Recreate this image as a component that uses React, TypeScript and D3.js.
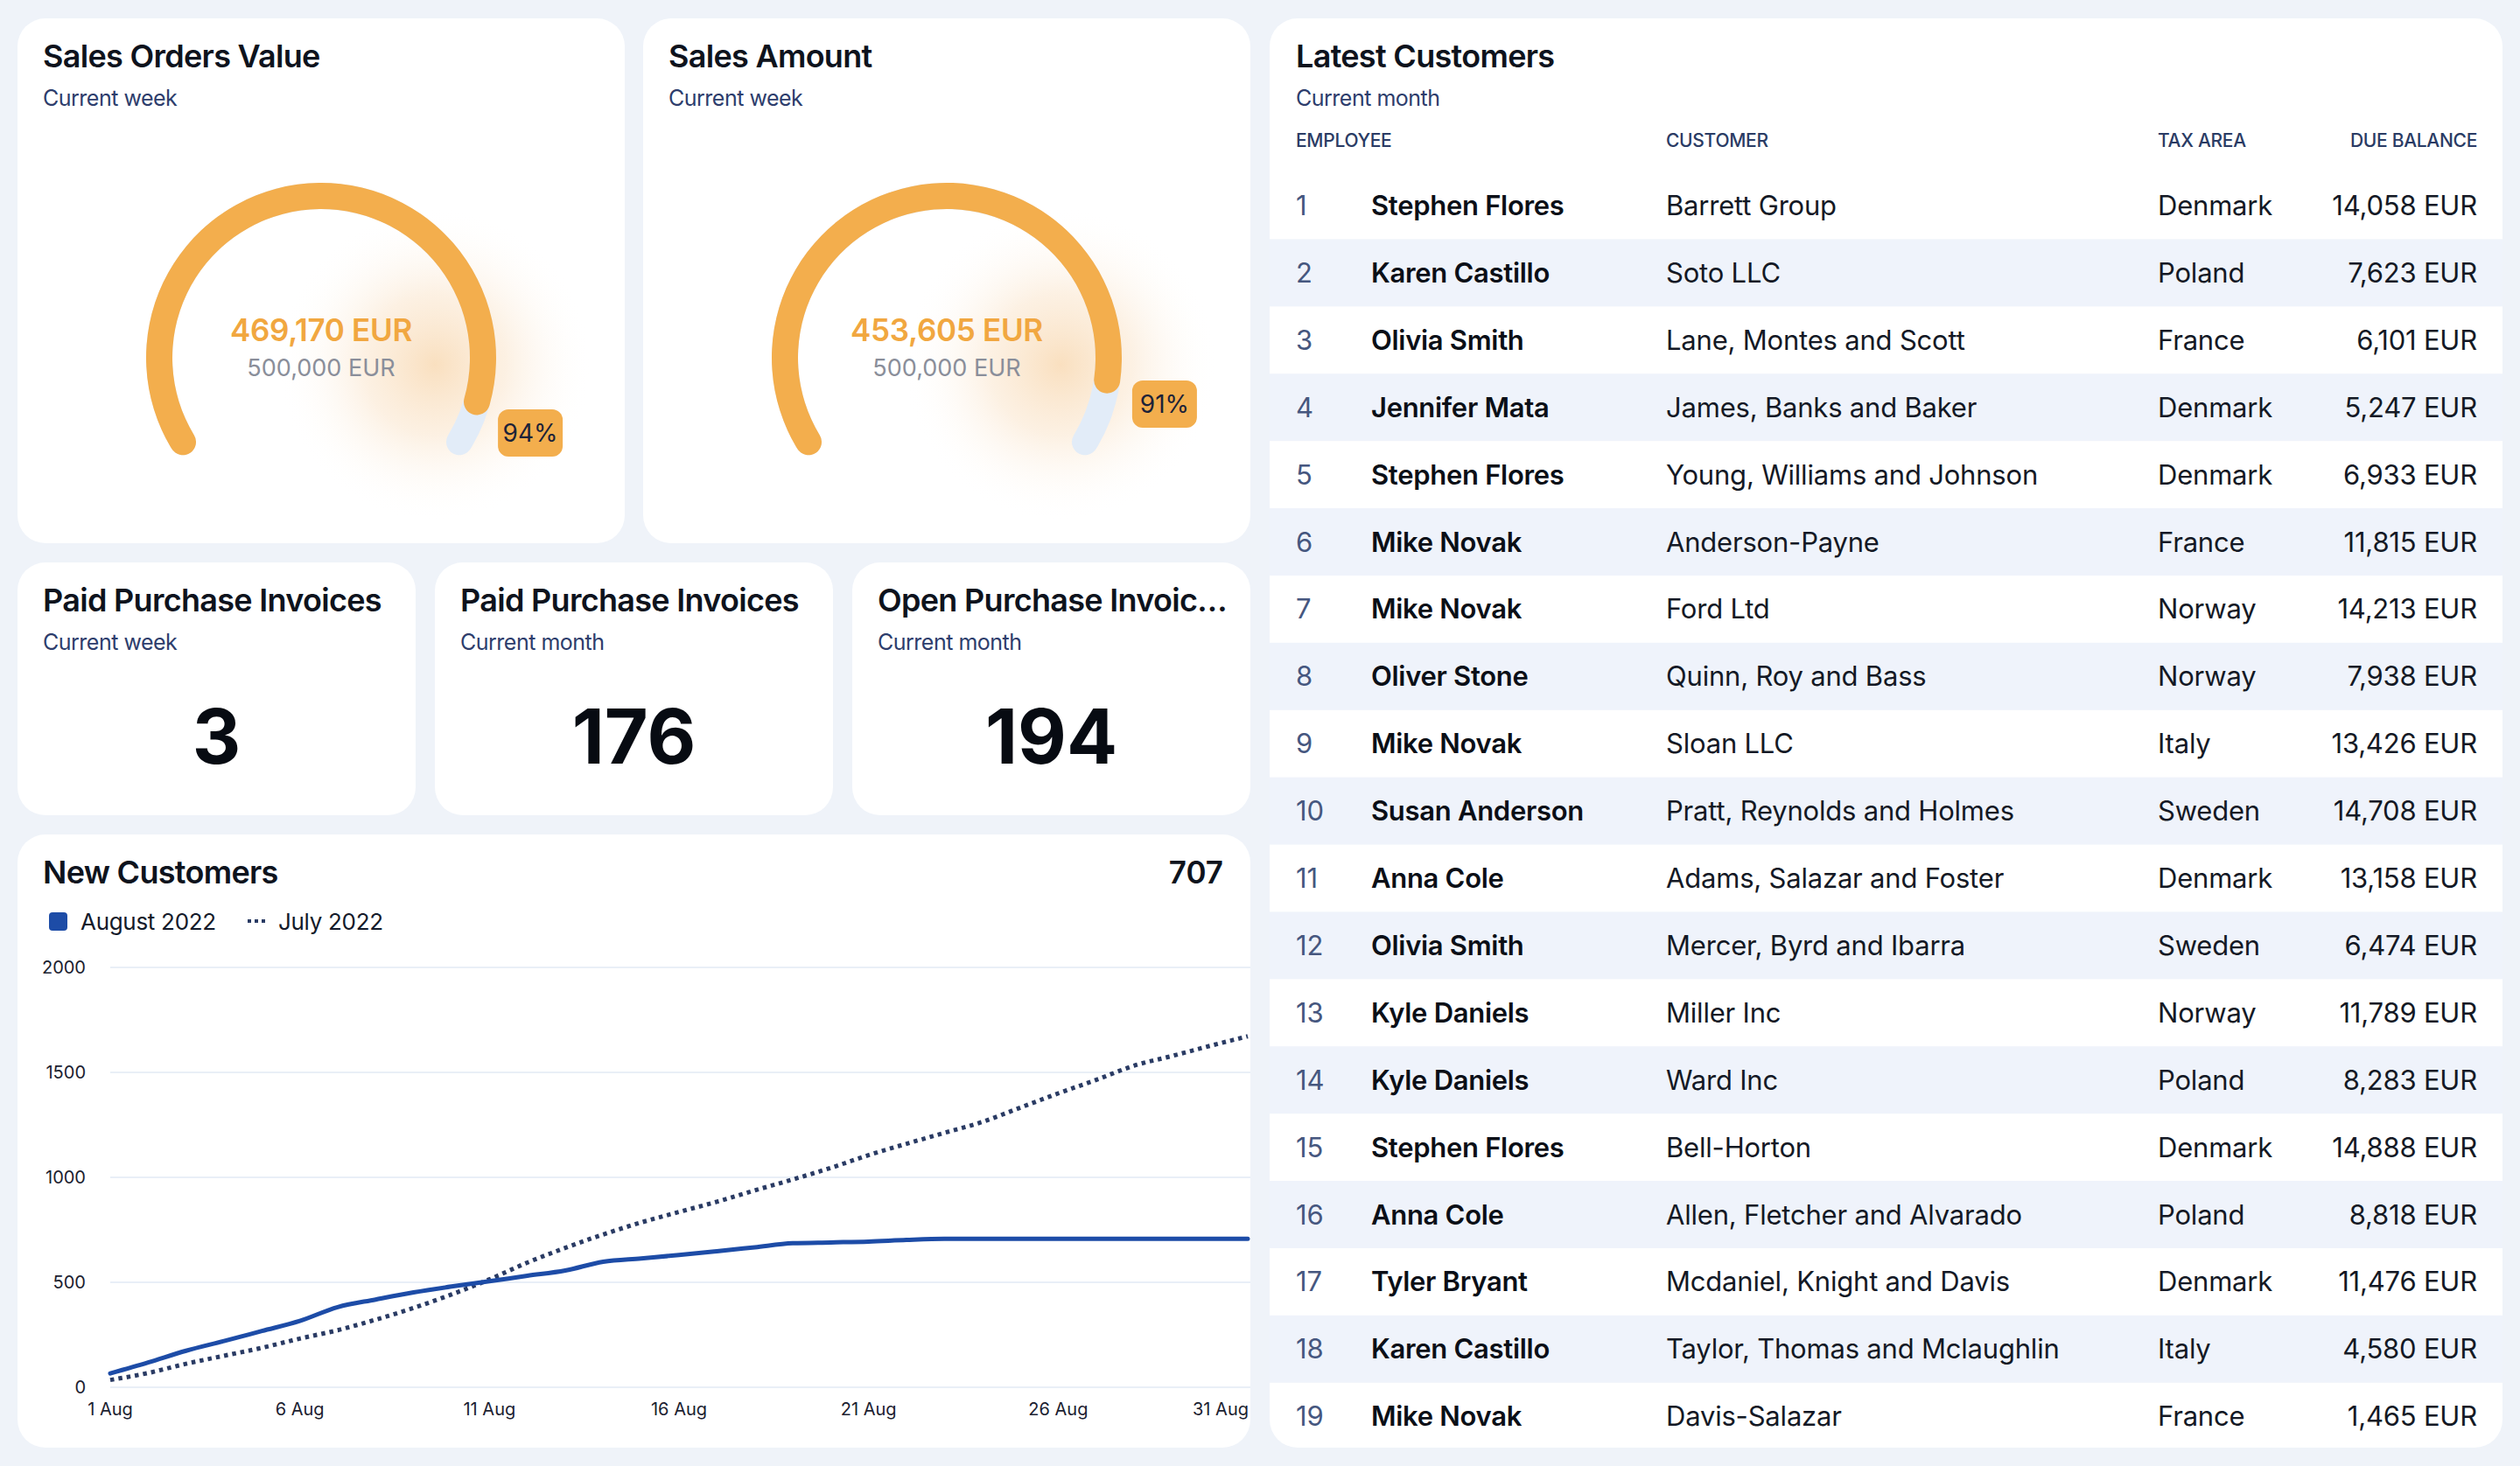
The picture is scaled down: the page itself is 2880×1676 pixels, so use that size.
import * as d3 from "d3";

const FONT = "Inter, 'Noto Sans', sans-serif";

// gauges
const gaugeTitles = ["Sales Orders Value", "Sales Amount"];
const gaugeSubtitles = ["Current week", "Current week"];
const gaugeValues = [469170, 453605];
const gaugeTargets = [500000, 500000];

// kpi tiles
const kpiTitles = ["Paid Purchase Invoices", "Paid Purchase Invoices", "Open Purchase Invoic\u2026"];
const kpiSubtitles = ["Current week", "Current month", "Current month"];
const kpiValues = [3, 176, 194];

// new customers chart
const days = [1, 2, 3, 4, 5, 6, 7, 8, 9, 10, 11, 12, 13, 14, 15, 16, 17, 18, 19, 20, 21, 22, 23, 24, 25, 26, 27, 28, 29, 30, 31];
const august2022 = [66, 118, 174, 220, 268, 316, 382, 418, 452, 480, 505, 531, 556, 598, 614, 630, 648, 667, 686, 690, 694, 702, 707, 707, 707, 707, 707, 707, 707, 707, 707];
const july2022 = [35, 68, 112, 150, 188, 232, 272, 322, 378, 442, 514, 594, 664, 728, 785, 835, 884, 938, 990, 1045, 1106, 1160, 1212, 1264, 1332, 1400, 1464, 1532, 1578, 1626, 1672];
const xTickDays = [1, 6, 11, 16, 21, 26, 31];
const yTicks = [0, 500, 1000, 1500, 2000];
const newCustomersTotal = 707;

// latest customers table
const employees = ["Stephen Flores", "Karen Castillo", "Olivia Smith", "Jennifer Mata", "Stephen Flores", "Mike Novak", "Mike Novak", "Oliver Stone", "Mike Novak", "Susan Anderson", "Anna Cole", "Olivia Smith", "Kyle Daniels", "Kyle Daniels", "Stephen Flores", "Anna Cole", "Tyler Bryant", "Karen Castillo", "Mike Novak"];
const customers = ["Barrett Group", "Soto LLC", "Lane, Montes and Scott", "James, Banks and Baker", "Young, Williams and Johnson", "Anderson-Payne", "Ford Ltd", "Quinn, Roy and Bass", "Sloan LLC", "Pratt, Reynolds and Holmes", "Adams, Salazar and Foster", "Mercer, Byrd and Ibarra", "Miller Inc", "Ward Inc", "Bell-Horton", "Allen, Fletcher and Alvarado", "Mcdaniel, Knight and Davis", "Taylor, Thomas and Mclaughlin", "Davis-Salazar"];
const taxAreas = ["Denmark", "Poland", "France", "Denmark", "Denmark", "France", "Norway", "Norway", "Italy", "Sweden", "Denmark", "Sweden", "Norway", "Poland", "Denmark", "Poland", "Denmark", "Italy", "France"];
const dueBalances = [14058, 7623, 6101, 5247, 6933, 11815, 14213, 7938, 13426, 14708, 13158, 6474, 11789, 8283, 14888, 8818, 11476, 4580, 1465];
const tableHeaders = ["EMPLOYEE", "CUSTOMER", "TAX AREA", "DUE BALANCE"];

const BG = "#eff3f9";
const TITLE = "#0e131d";
const SUB = "#2d3d6c";
const ORANGE = "#f3ae4d";
const BLUE = "#1d4ca7";
const NAVY = "#2a3b64";

const fmt = d3.format(",");

function Card({ x, y, w, h }: { x: number; y: number; w: number; h: number }) {
  return <rect x={x} y={y} width={w} height={h} rx={32} fill="#ffffff" />;
}

function Header({ x, y, title, subtitle }: { x: number; y: number; title: string; subtitle: string }) {
  return (
    <g>
      <text x={x + 29} y={y + 56} fontSize={36} fontWeight={600} letterSpacing={-0.7} fill={TITLE}>{title}</text>
      <text x={x + 29} y={y + 100} fontSize={25} letterSpacing={-0.5} fill={SUB}>{subtitle}</text>
    </g>
  );
}

function Gauge({ x, i }: { x: number; i: number }) {
  const w = 694;
  const cx = x + w / 2;
  const cy = 409;
  const target = gaugeTargets[i];
  const value = gaugeValues[i];
  const angle = d3.scaleLinear().domain([0, target]).range([-0.7 * Math.PI, 0.7 * Math.PI]);
  const arc = d3.arc<any>().innerRadius(170).outerRadius(200).cornerRadius(15);
  const track = arc({ startAngle: angle(0), endAngle: angle(target) }) as string;
  const fill = arc({ startAngle: angle(0), endAngle: angle(value) }) as string;
  const pct = Math.round((value / target) * 100);
  const a = angle(value);
  const bx = cx + 252 * Math.sin(a) + 3;
  const by = cy - 252 * Math.cos(a) - 2;
  const gid = `glow-${i}`;
  return (
    <g>
      <Card x={x} y={21} w={w} h={600} />
      <Header x={x} y={21} title={gaugeTitles[i]} subtitle={gaugeSubtitles[i]} />
      <defs>
        <radialGradient id={gid}>
          <stop offset="0%" stopColor="#f7d2a4" stopOpacity={0.7} />
          <stop offset="45%" stopColor="#f9dfc0" stopOpacity={0.45} />
          <stop offset="100%" stopColor="#ffffff" stopOpacity={0} />
        </radialGradient>
      </defs>
      <circle cx={cx + 130} cy={cy + 8} r={180} fill={`url(#${gid})`} />
      <path d={track} transform={`translate(${cx},${cy})`} fill="#e2ecf8" />
      <path d={fill} transform={`translate(${cx},${cy})`} fill={ORANGE} />
      <text x={cx} y={390} textAnchor="middle" fontSize={35} fontWeight={600} letterSpacing={-0.3} fill="#f1a740">
        {fmt(value)} EUR
      </text>
      <text x={cx} y={430} textAnchor="middle" fontSize={27} fill="#8a8e9a">
        {fmt(target)} EUR
      </text>
      <rect x={bx - 37} y={by - 27} width={74} height={54} rx={12} fill={ORANGE} />
      <text x={bx} y={by + 10} textAnchor="middle" fontSize={28} fill="#1c2238">
        {pct}%
      </text>
    </g>
  );
}

function Kpi({ x, i }: { x: number; i: number }) {
  const w = 455;
  return (
    <g>
      <Card x={x} y={643} w={w} h={289} />
      <Header x={x} y={643} title={kpiTitles[i]} subtitle={kpiSubtitles[i]} />
      <text x={x + w / 2} y={873} textAnchor="middle" fontSize={86} fontWeight={700} fill="#070b12">
        {kpiValues[i]}
      </text>
    </g>
  );
}

function NewCustomers() {
  const top = 954;
  const xScale = d3.scaleLinear().domain([1, 31]).range([126, 1426]);
  const yScale = d3.scaleLinear().domain([0, 2000]).range([1586, 1106]);
  const line = d3
    .line<number>()
    .x((_, k) => xScale(days[k]))
    .y((v) => yScale(v))
    .curve(d3.curveMonotoneX);
  return (
    <g>
      <Card x={20} y={top} w={1409} h={701} />
      <text x={49} y={top + 56} fontSize={36} fontWeight={600} letterSpacing={-0.7} fill={TITLE}>New Customers</text>
      <text x={1398} y={top + 56} textAnchor="end" fontSize={35} fontWeight={600} fill={TITLE}>
        {newCustomersTotal}
      </text>
      <rect x={56} y={1043} width={21} height={21} rx={4} fill={BLUE} />
      <text x={92} y={1063} fontSize={26} letterSpacing={-0.3} fill="#141a2a">August 2022</text>
      <line x1={283} x2={304} y1={1053} y2={1053} stroke={NAVY} strokeWidth={4} strokeDasharray="4 4" />
      <text x={318} y={1063} fontSize={26} letterSpacing={-0.3} fill="#141a2a">July 2022</text>
      {yTicks.map((t) => (
        <g key={t}>
          <line x1={126} x2={1429} y1={yScale(t)} y2={yScale(t)} stroke="#e9eff7" strokeWidth={2} />
          <text x={98} y={yScale(t) + 7} textAnchor="end" fontSize={20} fill="#1b2130">{t}</text>
        </g>
      ))}
      {xTickDays.map((d, k) => (
        <text
          key={d}
          x={xScale(d) + (k === xTickDays.length - 1 ? 1 : 0)}
          y={1618}
          textAnchor={k === xTickDays.length - 1 ? "end" : "middle"}
          fontSize={20}
          fill="#1b2130"
        >
          {d} Aug
        </text>
      ))}
      <path d={line(july2022) as string} fill="none" stroke={NAVY} strokeWidth={5} strokeDasharray="4.5 5" />
      <path d={line(august2022) as string} fill="none" stroke={BLUE} strokeWidth={5} strokeLinejoin="round" strokeLinecap="round" />
    </g>
  );
}

function LatestCustomers() {
  const x0 = 1451;
  const w = 1409;
  const rowY = d3.scaleLinear().domain([0, 1]).range([235, 235 + 76.9]);
  const cols = [1481, 1567, 1904, 2466, 2831];
  return (
    <g>
      <Card x={x0} y={21} w={w} h={1634} />
      <Header x={x0 + 1} y={21} title="Latest Customers" subtitle="Current month" />
      <text x={cols[0]} y={168} fontSize={21} fontWeight={500} letterSpacing={-0.3} fill={NAVY}>{tableHeaders[0]}</text>
      <text x={cols[2]} y={168} fontSize={21} fontWeight={500} letterSpacing={-0.3} fill={NAVY}>{tableHeaders[1]}</text>
      <text x={cols[3]} y={168} fontSize={21} fontWeight={500} letterSpacing={-0.3} fill={NAVY}>{tableHeaders[2]}</text>
      <text x={cols[4]} y={168} textAnchor="end" fontSize={21} fontWeight={500} letterSpacing={-0.3} fill={NAVY}>{tableHeaders[3]}</text>
      {employees.map((emp, k) => {
        const cy = rowY(k);
        return (
          <g key={k}>
            {k % 2 === 1 && <rect x={x0} y={cy - 38.5} width={w} height={77} fill="#eff3fb" />}
            <text x={cols[0]} y={cy + 11} fontSize={31} fill="#46577f">{k + 1}</text>
            <text x={cols[1]} y={cy + 11} fontSize={31} fontWeight={600} letterSpacing={-0.3} fill="#0b0f17">{emp}</text>
            <text x={cols[2]} y={cy + 11} fontSize={31} letterSpacing={-0.2} fill="#141925">{customers[k]}</text>
            <text x={cols[3]} y={cy + 11} fontSize={31} letterSpacing={-0.2} fill="#141925">{taxAreas[k]}</text>
            <text x={cols[4]} y={cy + 11} textAnchor="end" fontSize={31} letterSpacing={-0.2} fill="#141925">
              {fmt(dueBalances[k])} EUR
            </text>
          </g>
        );
      })}
    </g>
  );
}

export default function App() {
  return (
    <div style={{ position: "absolute", left: 0, top: 0 }}>
      <style>{"body{margin:0}"}</style>
      <svg width={2880} height={1676} viewBox="0 0 2880 1676" style={{ display: "block", fontFamily: FONT }}>
        <rect width={2880} height={1676} fill={BG} />
        <Gauge x={20} i={0} />
        <Gauge x={735} i={1} />
        <Kpi x={20} i={0} />
        <Kpi x={497} i={1} />
        <Kpi x={974} i={2} />
        <NewCustomers />
        <LatestCustomers />
      </svg>
    </div>
  );
}
